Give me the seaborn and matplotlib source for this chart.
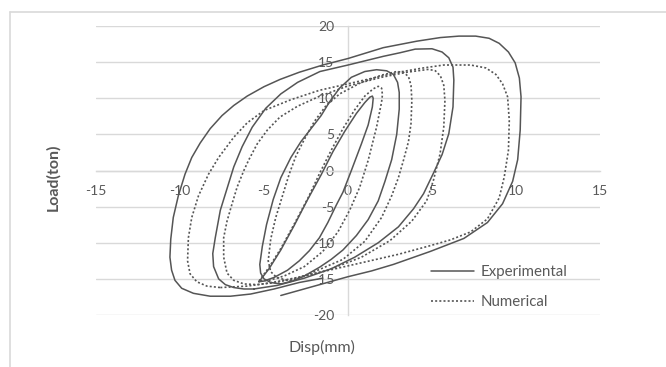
import matplotlib
matplotlib.use("Agg")
import matplotlib.pyplot as plt
from matplotlib.lines import Line2D
import seaborn as sns
import pandas as pd

# ---- hysteresis loops: Disp (mm) vs Load (ton) ----
# Experimental cycles (solid)
e1_x = [-5.3, -4.7, -4.0, -3.2, -2.4, -1.6, -0.9, -0.2, 0.5, 1.0, 1.3, 1.45, 1.5, 1.45, 1.2,
        0.8, 0.2, -0.3, -0.7, -1.2, -1.7, -2.3, -2.9, -3.6, -4.4, -5.0, -5.3]
e1_y = [-15.4, -13.6, -11.0, -7.6, -4.0, -0.6, 2.6, 5.4, 7.9, 9.4, 10.15, 10.3, 10.0, 8.8, 6.3,
        3.7, 0.0, -3.0, -4.8, -7.2, -9.3, -11.1, -12.5, -13.8, -14.8, -15.3, -15.4]

e2_x = [-4.0, -4.6, -5.0, -5.2, -5.25, -5.1, -4.85, -4.45, -4.0, -3.4, -2.8, -2.2, -1.6, -1.1,
        -0.5, 0.2, 1.0, 1.7, 2.3, 2.7, 2.95, 3.05, 3.05, 2.9, 2.6, 2.2, 1.8, 1.2, 0.5, -0.3,
        -1.0, -1.7, -2.6, -3.3, -4.0]
e2_y = [-15.7, -15.5, -15.0, -14.2, -13.0, -10.5, -7.5, -4.0, -1.0, 1.8, 4.0, 5.8, 7.6, 9.5,
        11.4, 12.9, 13.7, 13.95, 13.8, 13.3, 12.2, 10.8, 8.5, 5.0, 1.5, -1.5, -4.2, -6.8, -9.0,
        -11.0, -12.3, -13.4, -14.6, -15.3, -15.7]

e3_x = [-5.6, -4.2, -2.6, -1.0, 0.4, 1.8, 3.0, 3.9, 4.5, 5.1, 5.6, 6.0, 6.25, 6.3, 6.25, 6.0,
        5.6, 5.0, 4.0, 3.1, 2.1, 0.0, -1.67, -3.0, -4.0, -4.9, -5.7, -6.3, -6.8, -7.2, -7.6,
        -7.9, -8.05, -8.0, -7.7, -7.3, -6.8, -6.2, -5.6]
e3_y = [-16.4, -15.9, -14.9, -13.6, -12.0, -10.0, -7.8, -5.3, -3.2, -0.3, 2.2, 5.1, 8.8, 12.5,
        14.3, 15.6, 16.4, 16.85, 16.8, 16.3, 15.8, 14.6, 13.7, 12.2, 10.6, 8.6, 6.0, 3.3, 0.5,
        -2.5, -5.5, -9.3, -11.5, -13.3, -15.0, -15.8, -16.2, -16.4, -16.4]

e4_x = [-4.0, -2.0, 0.0, 1.4, 2.7, 4.9, 6.9, 8.3, 9.2, 9.8, 10.1, 10.25, 10.3, 10.2, 9.95,
        9.55, 9.0, 8.4, 7.6, 6.6, 5.5, 4.1, 2.1, 0.0, -1.5, -2.9, -4.05, -5.0, -6.0, -6.8, -7.5,
        -8.2, -8.8, -9.3, -9.7, -10.1, -10.4, -10.55, -10.6, -10.5, -10.3, -9.9, -9.2, -8.2,
        -7.0, -5.8, -4.4, -2.9, -1.5]
e4_y = [-17.3, -16.0, -14.7, -13.9, -13.0, -11.2, -9.4, -7.2, -4.6, -1.5, 1.5, 5.6, 10.2,
        12.8, 14.9, 16.4, 17.6, 18.3, 18.6, 18.6, 18.4, 17.9, 17.0, 15.5, 14.6, 13.6, 12.6,
        11.6, 10.3, 9.0, 7.6, 5.8, 3.8, 1.8, -0.5, -3.5, -6.5, -9.5, -12.0, -13.8, -15.2,
        -16.3, -17.0, -17.4, -17.4, -17.1, -16.4, -15.5, -14.9]

# Numerical cycles (dotted)
n1_x = [-5.3, -4.7, -4.0, -3.2, -2.4, -1.67, -1.0, -0.3, 0.4, 1.0, 1.5, 1.8, 2.0, 2.05, 2.0,
        1.7, 1.2, 0.7, 0.1, -0.6, -1.5, -2.6, -3.8, -4.7, -5.3]
n1_y = [-15.3, -13.4, -10.8, -7.4, -3.9, -0.3, 2.8, 5.8, 8.4, 10.3, 11.3, 11.65, 11.4, 10.5,
        9.5, 6.0, 1.4, -2.3, -5.5, -8.5, -11.2, -13.3, -14.6, -15.2, -15.3]

n2_x = [-3.45, -2.0, -0.3, 1.0, 2.0, 2.6, 3.0, 3.3, 3.6, 3.75, 3.8, 3.75, 3.6, 3.3, 2.9, 2.0,
        0.8, -0.5, -1.3, -2.0, -2.6, -3.1, -3.5, -3.9, -4.3, -4.6, -4.75, -4.6, -4.25, -3.45]
n2_y = [-15.3, -14.0, -12.3, -9.8, -6.5, -3.5, -1.0, 1.4, 4.0, 6.5, 9.7, 11.8, 13.0, 13.6,
        13.7, 13.2, 12.2, 10.6, 9.0, 6.8, 4.3, 2.0, -0.5, -3.5, -6.5, -9.5, -12.5, -14.0,
        -14.8, -15.3]

n3_x = [-5.4, -4.3, -3.3, -1.2, 0.8, 2.5, 3.8, 4.68, 5.08, 5.48, 5.7, 5.77, 5.7, 5.5, 5.2,
        4.8, 3.5, 2.0, 0.0, -1.67, -3.0, -4.05, -4.8, -5.4, -5.9, -6.2, -6.6, -6.9, -7.2, -7.4,
        -7.4, -7.2, -6.8, -6.2, -5.4]
n3_y = [-15.8, -15.5, -15.0, -13.8, -12.0, -9.7, -7.0, -4.2, -1.4, 2.3, 6.0, 9.7, 11.8, 13.1,
        13.8, 14.0, 13.6, 12.9, 11.7, 10.3, 8.9, 7.4, 5.6, 3.7, 1.5, 0.0, -2.3, -4.6, -7.0,
        -9.3, -12.0, -14.2, -15.2, -15.7, -15.8]

n4_x = [-7.6, -6.0, -4.5, -3.0, -1.5, 0.0, 1.5, 3.0, 4.9, 6.1, 7.3, 8.3, 9.0, 9.3, 9.55, 9.6,
        9.5, 9.2, 8.8, 8.2, 7.3, 5.7, 4.5, 3.0, 1.5, 0.0, -1.7, -3.4, -5.0, -6.0, -6.8, -7.7,
        -8.3, -8.9, -9.3, -9.5, -9.55, -9.4, -9.0, -8.4, -7.6]
n4_y = [-16.2, -16.0, -15.5, -14.8, -14.0, -13.2, -12.4, -11.6, -10.4, -9.6, -8.5, -6.7, -3.8,
        -0.9, 2.8, 6.9, 10.2, 12.0, 13.3, 14.2, 14.6, 14.6, 14.2, 13.6, 12.8, 12.0, 11.1, 9.8,
        8.3, 6.6, 4.6, 1.8, -0.5, -3.5, -6.5, -9.3, -12.5, -14.3, -15.4, -16.0, -16.2]

experimental = [(e1_x, e1_y), (e2_x, e2_y), (e3_x, e3_y), (e4_x, e4_y)]
numerical = [(n1_x, n1_y), (n2_x, n2_y), (n3_x, n3_y), (n4_x, n4_y)]

x_ticks = [-15, -10, -5, 0, 5, 10, 15]
y_ticks = [-20, -15, -10, -5, 0, 5, 10, 15, 20]

W, H = 666, 367
sns.set_theme(style="white")
plt.rcParams["font.family"] = ["Lato", "DejaVu Sans"]
text_color = "#595959"
line_color = "#555555"
grid_color = "#d9d9d9"
dot_style = (0, (1.2, 1.3))

fig = plt.figure(figsize=(W / 100, H / 100), dpi=100)
fig.patch.set_facecolor("white")

# plot area in pixel coordinates
left_px, right_px, top_px, bottom_px = 96, 600, 26, 315
ax = fig.add_axes([left_px / W, 1 - bottom_px / H,
                   (right_px - left_px) / W, (bottom_px - top_px) / H])
ax.set_facecolor("white")

for xs, ys in experimental:
    df = pd.DataFrame({"disp": xs, "load": ys})
    sns.lineplot(data=df, x="disp", y="load", sort=False, estimator=None, ax=ax,
                 color=line_color, linewidth=1.1, zorder=3)
for xs, ys in numerical:
    df = pd.DataFrame({"disp": xs, "load": ys})
    sns.lineplot(data=df, x="disp", y="load", sort=False, estimator=None, ax=ax,
                 color=line_color, linewidth=1.2, zorder=3)
    ax.lines[-1].set_linestyle(dot_style)

ax.set_xlim(-15, 15)
ax.set_ylim(-20, 20)
ax.set_xticks(x_ticks)
ax.set_yticks(y_ticks)
ax.set_xticklabels([str(t) for t in x_ticks])
ax.set_yticklabels([str(t) for t in y_ticks])
ax.set_xlabel("")
ax.set_ylabel("")

# axes cross at the origin
ax.spines["left"].set_position(("data", 0))
ax.spines["bottom"].set_position(("data", 0))
for side in ("left", "bottom"):
    ax.spines[side].set_color(grid_color)
    ax.spines[side].set_linewidth(1.0)
for side in ("top", "right"):
    ax.spines[side].set_visible(False)
ax.yaxis.grid(True, color=grid_color, linewidth=1.0)
ax.xaxis.grid(False)
ax.set_axisbelow(True)
ax.tick_params(axis="both", length=0, labelsize=10, labelcolor=text_color)
ax.tick_params(axis="y", pad=10)
ax.tick_params(axis="x", pad=10.5)

fig.text(53 / W, 1 - 177 / H, "Load(ton)", rotation=90, ha="center", va="center",
         fontsize=11.5, color=text_color, fontweight="bold")
fig.text(322 / W, 1 - 347 / H, "Disp(mm)", ha="center", va="center",
         fontsize=11.5, color=text_color)

handles = [Line2D([], [], color=line_color, linewidth=1.1),
           Line2D([], [], color=line_color, linewidth=1.2, linestyle=dot_style)]
leg = ax.legend(handles, ["Experimental", "Numerical"], loc="center left",
                bbox_to_anchor=(431 / W, 1 - 287 / H), bbox_transform=fig.transFigure,
                frameon=False, fontsize=10.8, handlelength=2.85, handletextpad=0.45,
                labelspacing=1.1, borderpad=0, borderaxespad=0)
for t in leg.get_texts():
    t.set_color(text_color)

# chart frame
fig.add_artist(Line2D([10 / W, 1], [1 - 12 / H, 1 - 12 / H], color=grid_color, linewidth=1.2))
fig.add_artist(Line2D([10 / W, 10 / W], [0, 1 - 12 / H], color=grid_color, linewidth=1.2))

fig.savefig("out.png", dpi=100, facecolor="white")
